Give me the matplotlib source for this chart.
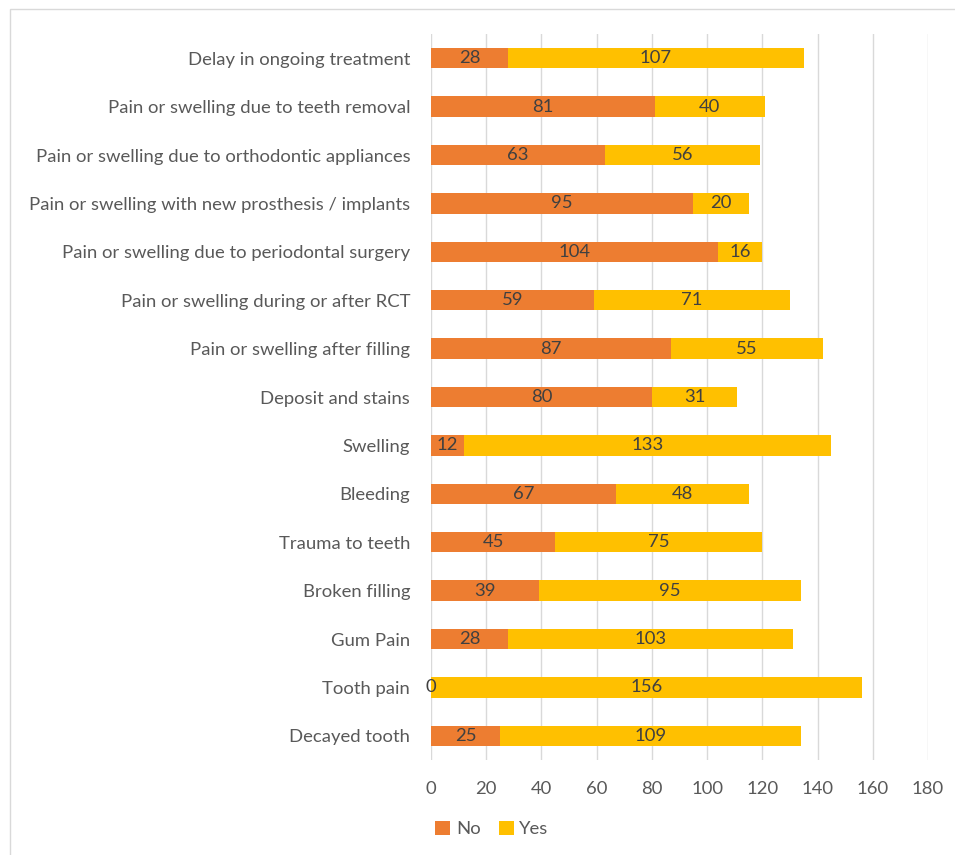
import matplotlib.pyplot as plt
from matplotlib.patches import Rectangle

categories = ['Decayed tooth', 'Tooth pain', 'Gum Pain', 'Broken filling',
              'Trauma to teeth', 'Bleeding', 'Swelling', 'Deposit and stains',
              'Pain or swelling after filling',
              'Pain or swelling during or after RCT',
              'Pain or swelling due to periodontal surgery',
              'Pain or swelling with new prosthesis / implants',
              'Pain or swelling due to orthodontic appliances',
              'Pain or swelling due to teeth removal',
              'Delay in ongoing treatment']
no_vals = [25, 0, 28, 39, 45, 67, 12, 80, 87, 59, 104, 95, 63, 81, 28]
yes_vals = [109, 156, 103, 95, 75, 48, 133, 31, 55, 71, 16, 20, 56, 40, 107]
xticks = [0, 20, 40, 60, 80, 100, 120, 140, 160, 180]

plt.rcParams['font.family'] = ['Lato', 'DejaVu Sans']
txt = '#595959'
c_no = '#ED7D31'
c_yes = '#FFC000'
fs = 13.3

fig = plt.figure(figsize=(9.55, 8.55), dpi=100)
ax = fig.add_axes([431/955, 1-760/855, (928-431)/955, (760-34)/855])

fig.patches.append(Rectangle((10/955, -0.05), 1, 1.05-9/855, transform=fig.transFigure,
                             fill=False, edgecolor='#D9D9D9', lw=1))

y = range(len(categories))
h = 0.42
ax.barh(y, no_vals, height=h, color=c_no, label='No', zorder=2)
ax.barh(y, yes_vals, left=no_vals, height=h, color=c_yes, label='Yes', zorder=2)

for i in y:
    n, yv = no_vals[i], yes_vals[i]
    ax.text(n/2, i, str(n), ha='center', va='center', fontsize=fs, color='#404040', zorder=3)
    ax.text(n + yv/2, i, str(yv), ha='center', va='center', fontsize=fs, color='#404040', zorder=3)

ax.set_xlim(0, 180)
ax.set_ylim(-0.5, len(categories) - 0.5)
ax.set_xticks(xticks)
ax.set_yticks(list(y))
ax.set_yticklabels(categories)
ax.tick_params(length=0, labelsize=fs, labelcolor=txt)
ax.tick_params(axis='x', pad=15)
ax.tick_params(axis='y', pad=15)
ax.grid(axis='x', color='#D9D9D9', lw=1, zorder=0)
for s in ax.spines.values():
    s.set_visible(False)

fig.legend(loc='center', bbox_to_anchor=(492/955, 1-829/855), ncol=2, frameon=False,
           fontsize=fs, labelcolor=txt, handlelength=0.8, handleheight=0.8,
           handletextpad=0.3, columnspacing=1.0)

fig.savefig('out.png', dpi=100)
